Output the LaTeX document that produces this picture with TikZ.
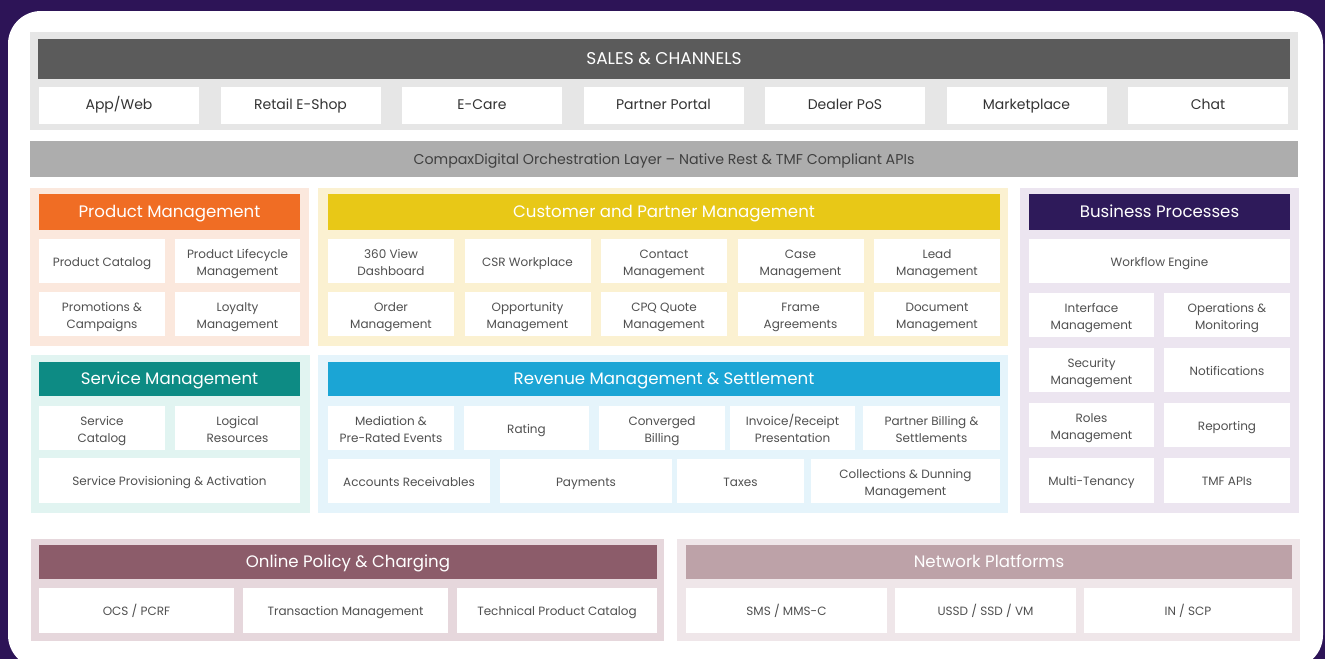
\documentclass[tikz,border=0pt]{standalone}
\usepackage{fontspec}
\setmainfont{Poppins}
\usetikzlibrary{positioning}

\definecolor{deep}{HTML}{2D1457}
\definecolor{salesbg}{HTML}{E6E6E6}
\definecolor{saleshd}{HTML}{5B5B5B}
\definecolor{orch}{HTML}{ADADAD}
\definecolor{prodhd}{HTML}{F06D24}
\definecolor{prodbg}{HTML}{FBE8DD}
\definecolor{custhd}{HTML}{E8C817}
\definecolor{custbg}{HTML}{FBF1D1}
\definecolor{busihd}{HTML}{2E1A5A}
\definecolor{busibg}{HTML}{ECE5F0}
\definecolor{servhd}{HTML}{0D8B84}
\definecolor{servbg}{HTML}{E1F4F1}
\definecolor{revhd}{HTML}{1BA5D5}
\definecolor{revbg}{HTML}{E5F4FB}
\definecolor{ocshd}{HTML}{8C5C6A}
\definecolor{ocsbg}{HTML}{E6D7DC}
\definecolor{nethd}{HTML}{BDA2A8}
\definecolor{netbg}{HTML}{EFE6E9}
\definecolor{cellink}{HTML}{505050}

\begin{document}
\begin{tikzpicture}[x=1pt,y=-1pt,
  grp/.style={inner sep=0pt},
  head/.style={inner sep=0pt,text=white,text height=1.1em,text depth=0.1em,
    font=\fontsize{16.6}{18}\selectfont},
  cell/.style={fill=white,inner sep=0pt,align=center,text=cellink,
    text height=1.1em,text depth=0.1em,font=\fontsize{12}{17}\selectfont},
  two/.style={text height=30.2pt},
  chan/.style={cell,minimum width=160pt,minimum height=37pt,text=black!80,
    text height=0.9em,text depth=0.2em,font=\fontsize{14}{16}\selectfont}]
\useasboundingbox (0,0) rectangle (1325,659);
\fill[deep] (0,0) rectangle (1325,659);
\fill[white,rounded corners=33pt] (8,11) rectangle (1323,668);

% sales and channels
\node[grp,fill=salesbg,minimum width=1268pt,minimum height=98pt] (sales) at (664,81) {};
\node[head,fill=saleshd,minimum width=1252pt,minimum height=40pt,font=\fontsize{17}{18}\selectfont] (salesH) at (664,59) {SALES \& CHANNELS};
\node[chan] (app) at (119,105.5) {App/Web};
\node[chan] (eshop) at (300.5,105.5) {Retail E-Shop};
\node[chan] (ecare) at (482,105.5) {E-Care};
\node[chan] (portal) at (663.5,105.5) {Partner Portal};
\node[chan] (pos) at (845,105.5) {Dealer PoS};
\node[chan] (market) at (1026.5,105.5) {Marketplace};
\node[chan] (chat) at (1208,105.5) {Chat};

\node[grp,fill=orch,minimum width=1268pt,minimum height=36pt,text=black!75,text height=1.1em,text depth=0.1em,font=\fontsize{14.2}{16}\selectfont] (orch) at (664,159) {CompaxDigital Orchestration Layer -- Native Rest \& TMF Compliant APIs};

% product management
\node[grp,fill=prodbg,minimum width=279pt,minimum height=158pt] (prod) at (169.5,267) {};
\node[head,fill=prodhd,minimum width=261pt,minimum height=36pt] (prodH) at (169.5,212) {Product Management};
\node[cell,minimum width=126pt,minimum height=44pt] (pcat) at (102,261) {Product Catalog};
\node[cell,two,minimum width=125pt,minimum height=44pt] (plife) at (237.5,261) {Product Lifecycle\\Management};
\node[cell,two,minimum width=126pt,minimum height=44pt] (promo) at (102,314) {Promotions \&\\Campaigns};
\node[cell,two,minimum width=125pt,minimum height=44pt] (loyal) at (237.5,314) {Loyalty\\Management};

% service management
\node[grp,fill=servbg,minimum width=279pt,minimum height=158pt] (serv) at (170,434) {};
\node[head,fill=servhd,minimum width=261pt,minimum height=34pt] (servH) at (169.5,379) {Service Management};
\node[cell,two,minimum width=126pt,minimum height=44pt] (scat) at (102,427.5) {Service\\Catalog};
\node[cell,two,minimum width=125pt,minimum height=44pt] (logres) at (237.5,427.5) {Logical\\Resources};
\node[cell,minimum width=261pt,minimum height=45pt] (sprov) at (169.5,480.5) {Service Provisioning \& Activation};

% customer and partner management
\node[grp,fill=custbg,minimum width=690pt,minimum height=158pt] (cust) at (663,267) {};
\node[head,fill=custhd,minimum width=672pt,minimum height=36pt] (custH) at (664,212) {Customer and Partner Management};
\node[cell,two,minimum width=126pt,minimum height=44pt] (view) at (391,261) {360 View\\Dashboard};
\node[cell,minimum width=126pt,minimum height=44pt] (csr) at (527.5,261) {CSR Workplace};
\node[cell,two,minimum width=126pt,minimum height=44pt] (contact) at (664,261) {Contact\\Management};
\node[cell,two,minimum width=126pt,minimum height=44pt] (case) at (800.5,261) {Case\\Management};
\node[cell,two,minimum width=126pt,minimum height=44pt] (lead) at (937,261) {Lead\\Management};
\node[cell,two,minimum width=126pt,minimum height=44pt] (order) at (391,314) {Order\\Management};
\node[cell,two,minimum width=126pt,minimum height=44pt] (oppo) at (527.5,314) {Opportunity\\Management};
\node[cell,two,minimum width=126pt,minimum height=44pt] (cpq) at (664,314) {CPQ Quote\\Management};
\node[cell,two,minimum width=126pt,minimum height=44pt] (frame) at (800.5,314) {Frame\\Agreements};
\node[cell,two,minimum width=126pt,minimum height=44pt] (docu) at (937,314) {Document\\Management};

% revenue management
\node[grp,fill=revbg,minimum width=690pt,minimum height=158pt] (rev) at (663,434) {};
\node[head,fill=revhd,minimum width=672pt,minimum height=34pt] (revH) at (664,379) {Revenue Management \& Settlement};
\node[cell,two,minimum width=126pt,minimum height=44pt] (medi) at (391,428) {Mediation \&\\Pre-Rated Events};
\node[cell,minimum width=125pt,minimum height=44pt] (rating) at (526.5,428) {Rating};
\node[cell,two,minimum width=126pt,minimum height=44pt] (conv) at (662,428) {Converged\\Billing};
\node[cell,two,minimum width=125pt,minimum height=44pt] (invoice) at (792.5,428) {Invoice/Receipt\\Presentation};
\node[cell,two,minimum width=137pt,minimum height=44pt] (pbill) at (931.5,428) {Partner Billing \&\\Settlements};
\node[cell,minimum width=162pt,minimum height=44pt] (recv) at (409,481) {Accounts Receivables};
\node[cell,minimum width=172pt,minimum height=44pt] (pay) at (586,481) {Payments};
\node[cell,minimum width=127pt,minimum height=44pt] (tax) at (740.5,481) {Taxes};
\node[cell,two,minimum width=189pt,minimum height=44pt] (dunn) at (905.5,481) {Collections \& Dunning\\Management};

% business processes
\node[grp,fill=busibg,minimum width=279pt,minimum height=325pt] (busi) at (1159.5,350.5) {};
\node[head,fill=busihd,minimum width=261pt,minimum height=36pt] (busiH) at (1159.5,212) {Business Processes};
\node[cell,minimum width=261pt,minimum height=44pt] (flow) at (1159.5,261) {Workflow Engine};
\node[cell,two,minimum width=125pt,minimum height=44pt] (iface) at (1091.5,315) {Interface\\Management};
\node[cell,two,minimum width=126pt,minimum height=44pt] (ops) at (1227,315) {Operations \&\\Monitoring};
\node[cell,two,minimum width=125pt,minimum height=44pt] (secu) at (1091.5,370) {Security\\Management};
\node[cell,minimum width=126pt,minimum height=44pt] (notif) at (1227,370) {Notifications};
\node[cell,two,minimum width=125pt,minimum height=44pt] (roles) at (1091.5,425) {Roles\\Management};
\node[cell,minimum width=126pt,minimum height=44pt] (report) at (1227,425) {Reporting};
\node[cell,minimum width=125pt,minimum height=45pt] (tenant) at (1091.5,480.5) {Multi-Tenancy};
\node[cell,minimum width=126pt,minimum height=45pt] (tmf) at (1227,480.5) {TMF APIs};

% online policy and charging
\node[grp,fill=ocsbg,minimum width=633pt,minimum height=102pt] (ocs) at (347.5,589.5) {};
\node[head,fill=ocshd,minimum width=618pt,minimum height=34pt] (ocsH) at (348,562) {Online Policy \& Charging};
\node[cell,minimum width=195pt,minimum height=45pt] (pcrf) at (136.5,610.5) {OCS / PCRF};
\node[cell,minimum width=205pt,minimum height=45pt] (trans) at (345.5,610.5) {Transaction Management};
\node[cell,minimum width=200pt,minimum height=45pt] (tcat) at (557,610.5) {Technical Product Catalog};

% network platforms
\node[grp,fill=netbg,minimum width=623pt,minimum height=102pt] (net) at (988.5,589.5) {};
\node[head,fill=nethd,minimum width=606pt,minimum height=34pt] (netH) at (989,562) {Network Platforms};
\node[cell,minimum width=201pt,minimum height=45pt] (sms) at (786.5,610.5) {SMS / MMS-C};
\node[cell,minimum width=181pt,minimum height=45pt] (ussd) at (985.5,610.5) {USSD / SSD / VM};
\node[cell,minimum width=208pt,minimum height=45pt] (inscp) at (1188,610.5) {IN / SCP};
\end{tikzpicture}
\end{document}
